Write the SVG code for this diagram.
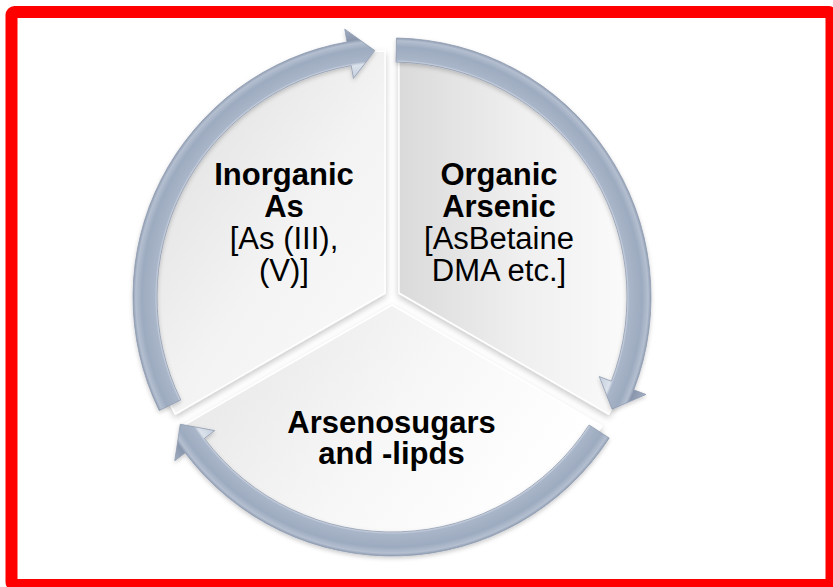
<svg xmlns="http://www.w3.org/2000/svg" width="833" height="587" viewBox="0 0 833 587">
  <defs>
    <radialGradient id="ringGrad" gradientUnits="userSpaceOnUse" cx="392" cy="297" r="272">
      <stop offset="0.80" stop-color="#bcc7d6"/>
      <stop offset="0.862" stop-color="#dbe2ec"/>
      <stop offset="0.872" stop-color="#a9b5c8"/>
      <stop offset="0.92" stop-color="#9dabc0"/>
      <stop offset="0.942" stop-color="#b4bfd0"/>
      <stop offset="0.955" stop-color="#8895ab"/>
      <stop offset="1" stop-color="#a2afc3"/>
    </radialGradient>
    <linearGradient id="gLeft" x1="0" y1="0" x2="1" y2="1">
      <stop offset="0" stop-color="#dcdcdc"/>
      <stop offset="0.55" stop-color="#f3f3f3"/>
      <stop offset="1" stop-color="#fbfbfb"/>
    </linearGradient>
    <linearGradient id="gRight" x1="0" y1="0" x2="1" y2="0">
      <stop offset="0" stop-color="#dadada"/>
      <stop offset="0.5" stop-color="#efefef"/>
      <stop offset="1" stop-color="#fcfcfc"/>
    </linearGradient>
    <linearGradient id="gBottom" x1="0" y1="0" x2="1" y2="0.4">
      <stop offset="0" stop-color="#e4e4e4"/>
      <stop offset="0.6" stop-color="#f7f7f7"/>
      <stop offset="1" stop-color="#ffffff"/>
    </linearGradient>
    <filter id="shadow" x="-10%" y="-10%" width="120%" height="120%">
      <feDropShadow dx="0" dy="3" stdDeviation="3" flood-color="#000" flood-opacity="0.22"/>
    </filter>
    <filter id="ashadow" x="-10%" y="-10%" width="120%" height="120%">
      <feDropShadow dx="0" dy="2" stdDeviation="2" flood-color="#000" flood-opacity="0.2"/>
    </filter>
  </defs>
  <style>
    .seg { stroke: #ffffff; stroke-width: 1.5; filter: url(#shadow); }
    .arrow { fill: url(#ringGrad); stroke: #8e9bb0; stroke-width: 0.8; filter: url(#ashadow); }
    .b { font-family: "Liberation Sans", Arial, sans-serif; font-size: 31px; font-weight: bold; fill: #000; text-anchor: middle; }
    .r { font-family: "Liberation Sans", Arial, sans-serif; font-size: 31px; fill: #000; text-anchor: middle; }
  </style>

  <rect x="0" y="0" width="833" height="587" fill="#ffffff"/>

  <g id="node-inorganic">
    <path class="seg" fill="url(#gLeft)" d="M385.07,293 L175.49,414 A242,242 0 0 1 385.07,51 Z"/>
    <text class="b" x="284" y="184.5">Inorganic</text>
    <text class="b" x="284" y="216.5">As</text>
    <text class="r" x="284" y="248.5">[As (III),</text>
    <text class="r" x="284" y="280.5">(V)]</text>
  </g>

  <g id="node-organic">
    <path class="seg" fill="url(#gRight)" d="M398.93,293 L398.93,51 A242,242 0 0 1 608.51,414 Z"/>
    <text class="b" x="499" y="184.5">Organic</text>
    <text class="b" x="499" y="216.5">Arsenic</text>
    <text class="r" x="499" y="248.5">[AsBetaine</text>
    <text class="r" x="499" y="280.5">DMA etc.]</text>
  </g>

  <g id="node-arsenosugars">
    <path class="seg" fill="url(#gBottom)" d="M392,305 L601.58,426 A242,242 0 0 1 182.42,426 Z"/>
    <text class="b" x="391.5" y="433">Arsenosugars</text>
    <text class="b" x="391.5" y="464">and -lipds</text>
  </g>

  <g id="connectors">
    <path class="arrow" d="M159.21,410.54 A259,259 0 0 1 347.03,41.93 L344.77,29.13 L374.77,50.60 L353.45,78.37 L351.19,65.57 A235,235 0 0 0 180.78,400.02 Z"/>
    <path class="arrow" d="M396.52,38.04 A259,259 0 0 1 633.80,389.82 L645.93,394.48 L612.08,409.14 L599.25,376.56 L611.39,381.22 A235,235 0 0 0 396.10,62.04 Z"/>
    <path class="arrow" d="M609.22,438.06 A259,259 0 0 1 185.15,452.87 L174.77,460.70 L180.28,424.21 L214.70,430.60 L204.32,438.43 A235,235 0 0 0 589.09,424.99 Z"/>
  </g>

  <rect x="11.5" y="12" width="820" height="573" rx="3" fill="none" stroke="#ff0000" stroke-width="12"/>
</svg>
